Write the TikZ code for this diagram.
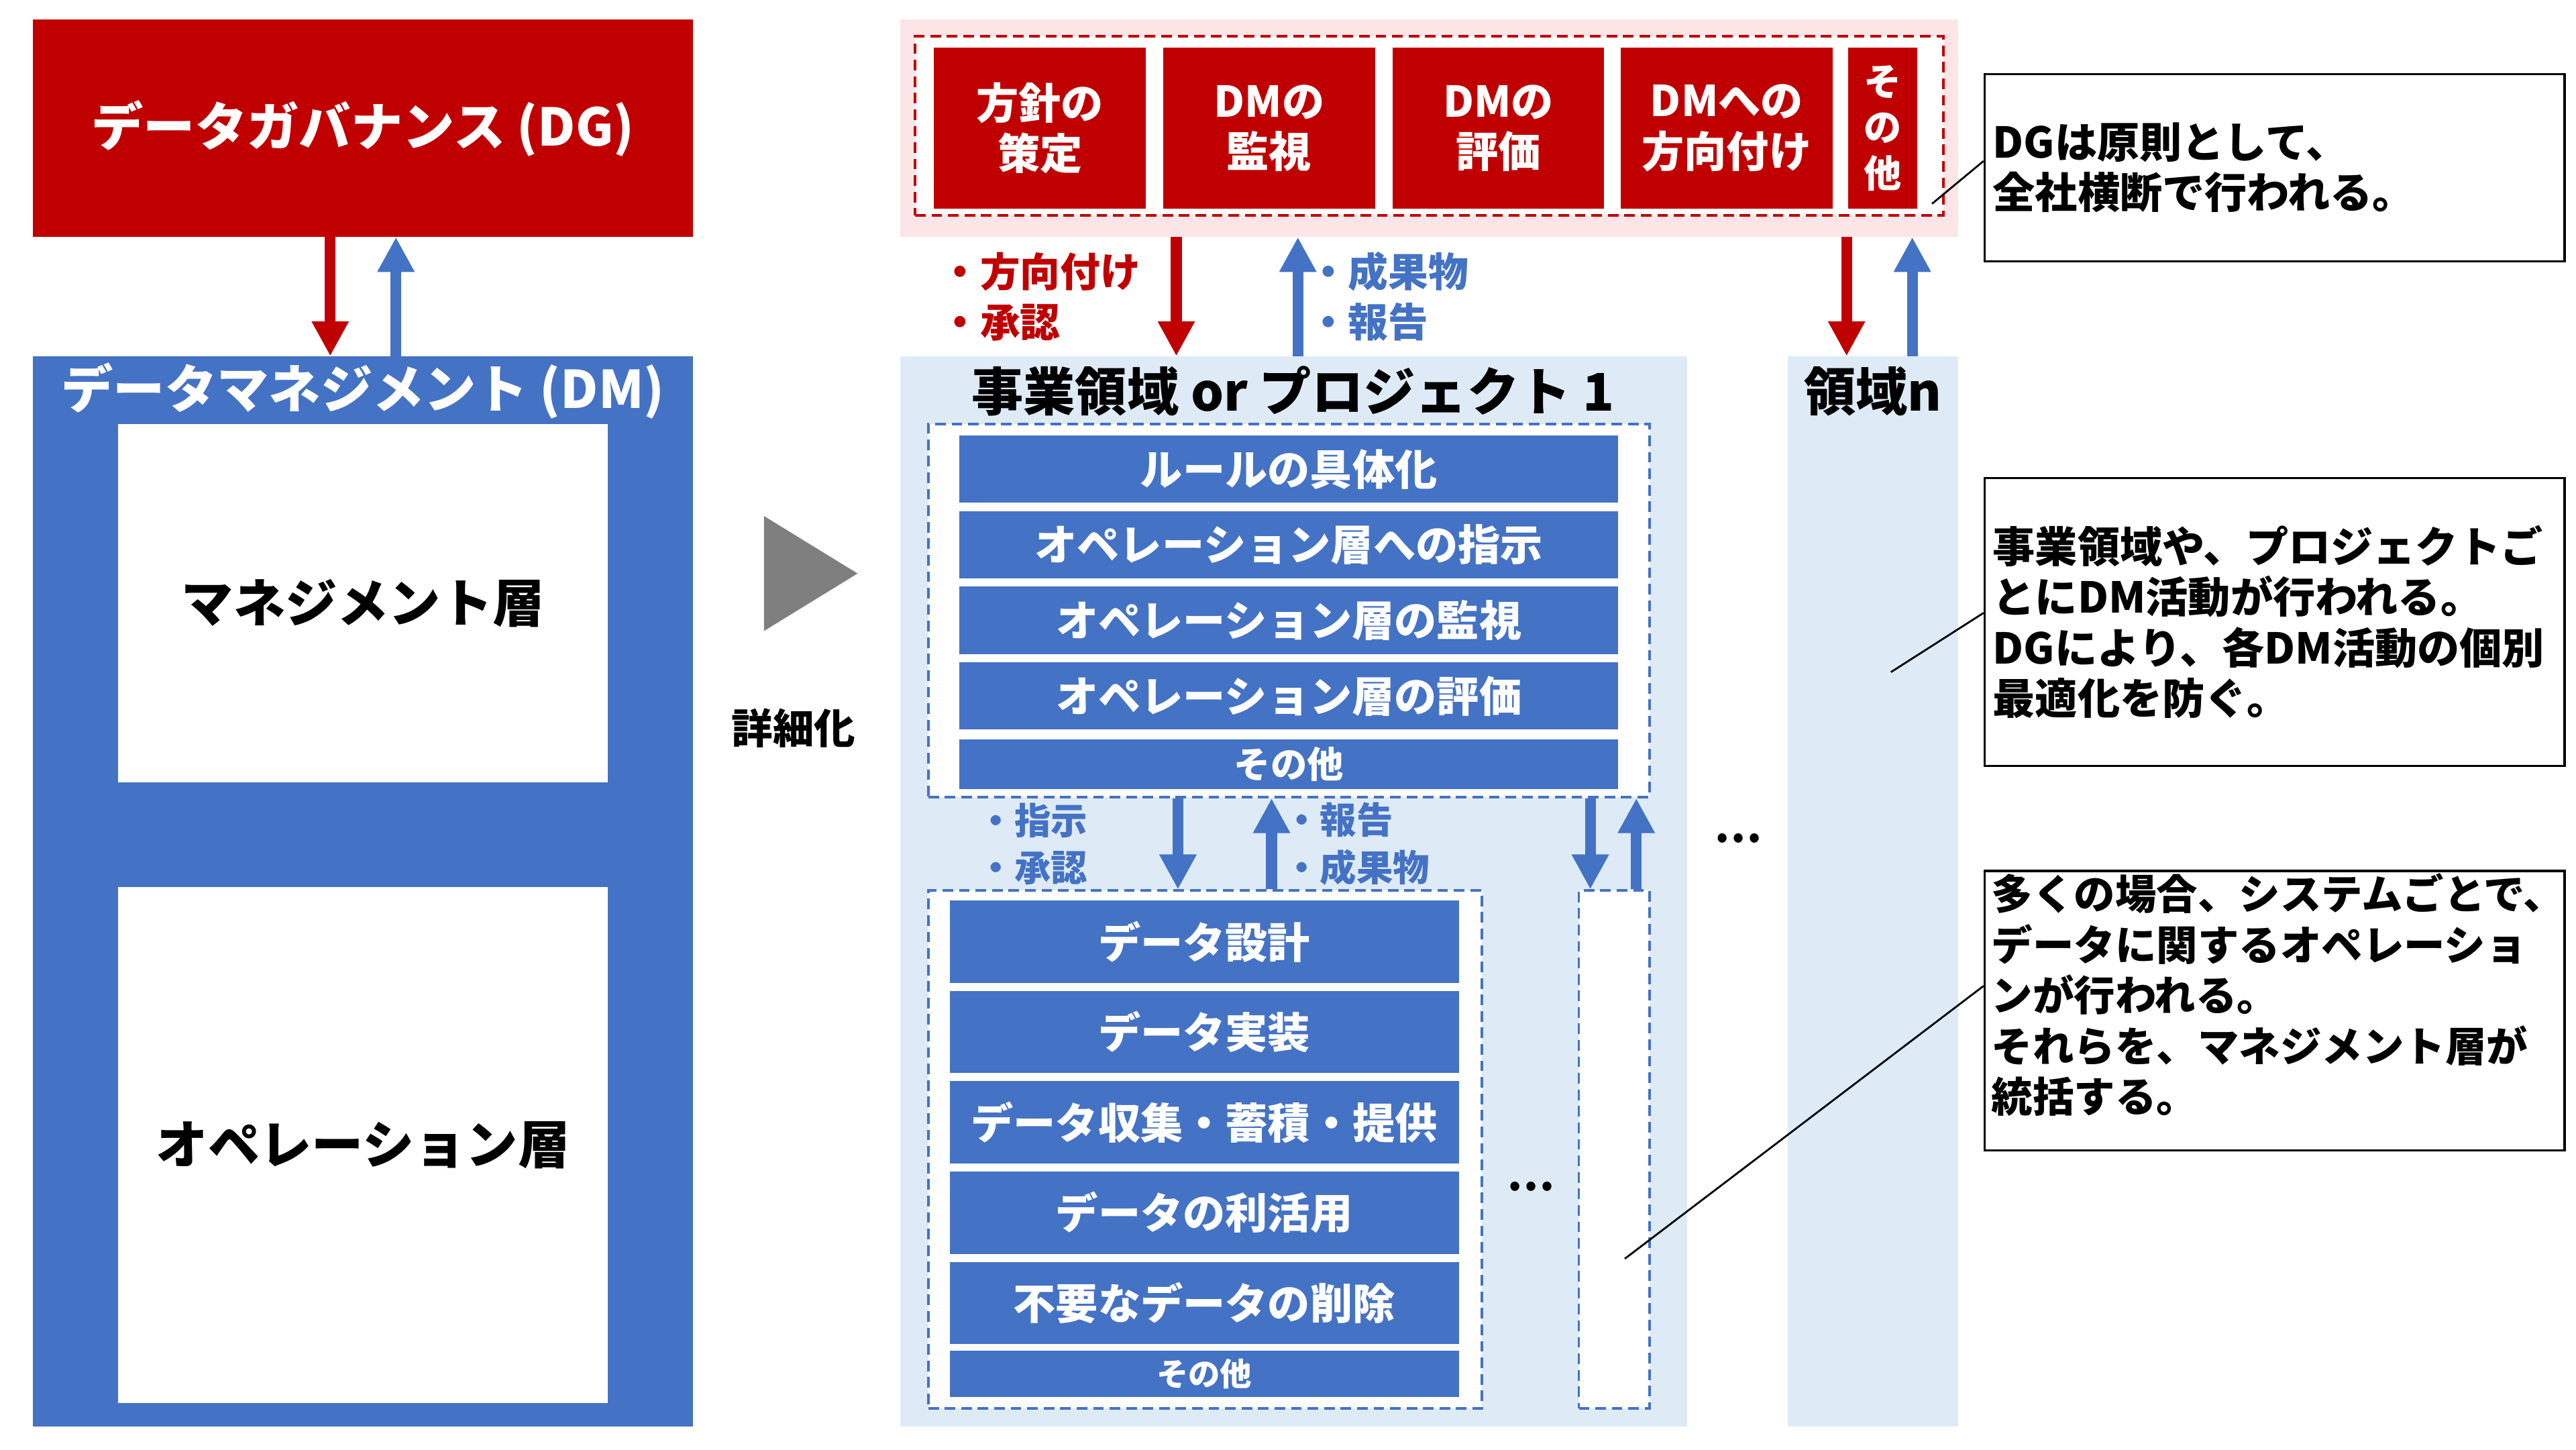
\documentclass[tikz,border=0pt]{standalone}
\usepackage{fontspec}
\setmainfont{Noto Sans CJK JP}
\usetikzlibrary{arrows.meta,calc}

\definecolor{dgred}{HTML}{C00000}
\definecolor{dmblue}{HTML}{4472C4}
\definecolor{lightblue}{HTML}{DEEBF7}
\definecolor{lightpink}{HTML}{FBE5E6}
\definecolor{arrowgray}{HTML}{7F7F7F}

\newcommand{\px}{0.0245cm}

\tikzset{
  fillbox/.style={rectangle, inner sep=0pt, fill=#1},
  bw/.style={minimum width=#1*\px},
  bh/.style={minimum height=#1*\px},
  dashbox/.style={rectangle, inner sep=0pt, fill=white, draw=#1, line width=1.1pt, dash pattern=on 4.5pt off 2.5pt},
  callout/.style={rectangle, draw, line width=0.9pt, fill=white, inner xsep=5*\px, inner ysep=0pt, align=left, notetxt},
  bigtxt/.style={font=\fontsize{22pt}{26pt}\selectfont\bfseries},
  midtxt/.style={font=\fontsize{18pt}{21.5pt}\selectfont\bfseries},
  notetxt/.style={font=\fontsize{18pt}{21.5pt}\selectfont\bfseries},
  lbltxt/.style={font=\fontsize{17pt}{21.5pt}\selectfont\bfseries, inner sep=0pt, align=left, anchor=west},
  lowlbl/.style={font=\fontsize{15.5pt}{20pt}\selectfont\bfseries, inner sep=0pt, align=left, anchor=west, text=dmblue},
  smalltxt/.style={font=\fontsize{15.5pt}{18pt}\selectfont\bfseries},
  tinytxt/.style={font=\fontsize{13.5pt}{16pt}\selectfont\bfseries},
  redarrow/.style={draw=dgred, line width=4.6pt, -{Triangle[width=0.52cm,length=0.52cm]}},
  bluearrow/.style={draw=dmblue, line width=4.6pt, -{Triangle[width=0.52cm,length=0.52cm]}},
}

\begin{document}
\begin{tikzpicture}[x=\px, y=-\px]
\useasboundingbox (0,0) rectangle (1568,882);

% DG / DM (left)
\node[fillbox=dgred, bw=402, bh=132, text=white, bigtxt] (dg) at (221,78) {データガバナンス (DG)};
\node[fillbox=dmblue, bw=402, bh=651] (dm) at (221,542.5) {};
\node[text=white, bigtxt, inner sep=0pt] (dmtitle) at (221,238) {データマネジメント (DM)};
\node[fillbox=white, bw=298, bh=218, bigtxt] (mgmtlayer) at (221,367) {マネジメント層};
\node[fillbox=white, bw=298, bh=314, bigtxt] (opslayer) at (221,697) {オペレーション層};

\coordinate (xa) at (201,0);
\coordinate (xb) at (241,0);
\draw[redarrow] (dg.south -| xa) -- (dm.north -| xa);
\draw[bluearrow] (dm.north -| xb) -- (dg.south -| xb);

% detail marker
\fill[arrowgray] (465,314) -- (522,349) -- (465,384) -- cycle;
\node[midtxt, font=\fontsize{17.5pt}{21pt}\selectfont\bfseries] (detail) at (483,443) {詳細化};

% DG activities
\node[fillbox=lightpink, bw=644, bh=132] (dgbg) at (870,78) {};
\node[dashbox=dgred, bw=626, bh=109] (dgframe) at (870,76.5) {};
\foreach \cx/\txt [count=\i] in {633/{方針の\\策定}, 772.5/{DMの\\監視}, 912/{DMの\\評価}, 1051/{DMへの\\方向付け}}
	\node[fillbox=dgred, bw=129, bh=98, text=white, midtxt, align=center] (dgact\i) at (\cx,78) {\txt};
\node[fillbox=dgred, bw=42, bh=98, text=white, align=center, font=\fontsize{16pt}{19.4pt}\selectfont\bfseries] (dgother) at (1146,78) {そ\\の\\他};

% DM per domain
\node[fillbox=lightblue, bw=479, bh=651] (proj) at (787.5,542.5) {};
\node[fillbox=lightblue, bw=104, bh=651] (regn) at (1140,542.5) {};
\node[bigtxt, inner sep=0pt] (projtitle) at (787,238) {事業領域 or プロジェクト 1};
\node[bigtxt, inner sep=0pt] (regntitle) at (1140,238) {領域n};

\coordinate (xc) at (716,0);
\coordinate (xd) at (790,0);
\coordinate (xe) at (1124,0);
\coordinate (xf) at (1164,0);
\draw[redarrow] (dgbg.south -| xc) -- (proj.north -| xc);
\draw[bluearrow] (proj.north -| xd) -- (dgbg.south -| xd);
\draw[redarrow] (dgbg.south -| xe) -- (regn.north -| xe);
\draw[bluearrow] (regn.north -| xf) -- (dgbg.south -| xf);
\node[lbltxt, text=dgred] (downlbl) at (572,180.5) {・方向付け\\・承認};
\node[lbltxt, text=dmblue] (uplbl) at (796,180.5) {・成果物\\・報告};

% management layer
\node[dashbox=dmblue, bw=439, bh=227] (mgmt) at (784.5,371.5) {};
\foreach \cy/\txt [count=\i] in {285.5/ルールの具体化, 331.5/オペレーション層への指示, 377.5/オペレーション層の監視, 423.5/オペレーション層の評価}
	\node[fillbox=dmblue, bw=401, bh=41, text=white, midtxt] (mgact\i) at (784.5,\cy) {\txt};
\node[fillbox=dmblue, bw=401, bh=30, text=white, smalltxt] (mgother) at (784.5,465) {その他};

% operation layer
\node[dashbox=dmblue, bw=337, bh=315] (ops) at (733.5,699.5) {};
\foreach \cy/\txt [count=\i] in {573/データ設計, 628/データ実装, 683/データ収集・蓄積・提供, 738/データの利活用, 793/不要なデータの削除}
	\node[fillbox=dmblue, bw=310, bh=50, text=white, midtxt] (opact\i) at (733,\cy) {\txt};
\node[fillbox=dmblue, bw=310, bh=28, text=white, tinytxt] (opother) at (733,836) {その他};
\node[dashbox=dmblue, bw=43, bh=315] (opsn) at (982.5,699.5) {};

\coordinate (xg) at (717,0);
\coordinate (xh) at (774,0);
\coordinate (xi) at (968,0);
\coordinate (xj) at (996,0);
\draw[bluearrow] (mgmt.south -| xg) -- (ops.north -| xg);
\draw[bluearrow] (ops.north -| xh) -- (mgmt.south -| xh);
\draw[bluearrow] (mgmt.south -| xi) -- (opsn.north -| xi);
\draw[bluearrow] (opsn.north -| xj) -- (mgmt.south -| xj);
\node[lowlbl] (instlbl) at (595,513.5) {・指示\\・承認};
\node[lowlbl] (replbl) at (781,513.5) {・報告\\・成果物};

\node[midtxt, inner sep=0pt] (dotsa) at (932,722) {…};
\node[midtxt, inner sep=0pt] (dotsb) at (1058,510) {…};

% notes
\node[callout, bw=353, bh=114, text width=343*\px] (c1) at (1384.5,102) {DGは原則として、\\全社横断で行われる。};
\node[callout, bw=353, bh=175, text width=343*\px] (c2) at (1384.5,378.5) {事業領域や、プロジェクトご\\とにDM活動が行われる。\\DGにより、各DM活動の個別\\最適化を防ぐ。};
\node[callout, bw=353, bh=170] (c3) at (1384.5,615) {};
\node[notetxt, font=\fontsize{17.5pt}{21.5pt}\selectfont\bfseries, align=left, anchor=west, inner sep=0pt] (c3txt) at (1212,605.5) {多くの場合、システムごとで、\\データに関するオペレーショ\\ンが行われる。\\それらを、マネジメント層が\\統括する。};

\coordinate (p1) at (1176,124);
\coordinate (p2) at (1151,409);
\coordinate (p3) at (989,766);
\draw[line width=0.8pt] (p1) -- ($(c1.west)+(0,-4)$);
\draw[line width=0.8pt] (p2) -- ($(c2.west)+(0,-5.5)$);
\draw[line width=0.8pt] (p3) -- ($(c3.west)+(0,-15)$);
\end{tikzpicture}
\end{document}
